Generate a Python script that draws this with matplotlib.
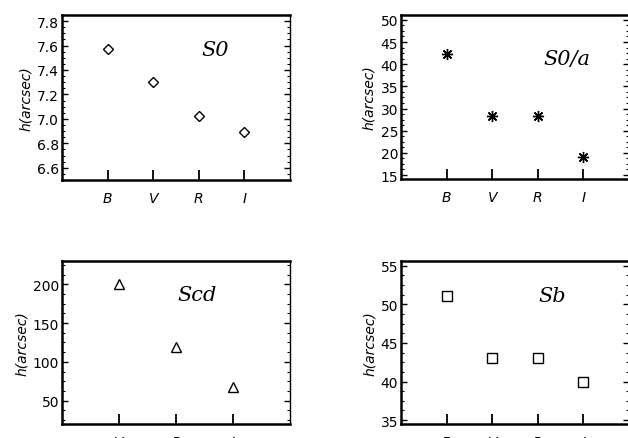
import matplotlib
matplotlib.use('Agg')
import matplotlib.pyplot as plt
from matplotlib.ticker import AutoMinorLocator

bands4 = ['B', 'V', 'R', 'I']
bands3 = ['V', 'R', 'I']

h_s0 = [7.57, 7.30, 7.02, 6.89]
h_s0a = [42.3, 28.3, 28.3, 19.0]
h_scd = [200, 119, 68]
h_sb = [51.1, 43.0, 43.0, 40.0]

fig = plt.figure(figsize=(6.28, 4.39), dpi=100)

# panel: rect, bands, values, marker, size, ylim, yticks, fmt, label, label pos
panels = [
    ([0.0987, 0.5877, 0.3631, 0.3759], bands4, h_s0, 'D', 5.5, (6.5, 7.85),
     [6.6, 6.8, 7.0, 7.2, 7.4, 7.6, 7.8], '%.1f', 'S0', (3.36, 7.57)),
    ([0.6385, 0.5900, 0.3631, 0.3736], bands4, h_s0a, (8, 2, 0), 8, (14.1, 51.1),
     [15, 20, 25, 30, 35, 40, 45, 50], '%d', 'S0/a', (3.64, 41.2)),
    ([0.0987, 0.0319, 0.3631, 0.3713], bands3, h_scd, '^', 7, (20, 230),
     [50, 100, 150, 200], '%d', 'Scd', (2.37, 187)),
    ([0.6385, 0.0319, 0.3631, 0.3713], bands4, h_sb, 's', 6.5, (34.5, 55.6),
     [35, 40, 45, 50, 55], '%d', 'Sb', (3.31, 51.1)),
]

for rect, bands, vals, mk, ms, ylim, yt, fmt, lab, lpos in panels:
    ax = fig.add_axes(rect)
    x = list(range(1, len(bands) + 1))
    if isinstance(mk, tuple):
        ax.plot(x, vals, linestyle='none', marker=mk, ms=ms, mec='black',
                mew=1.0, color='black')
    else:
        ax.plot(x, vals, linestyle='none', marker=mk, ms=ms, mfc='white',
                mec='black', mew=1.0)
    ax.set_xlim(0, len(bands) + 1)
    ax.set_ylim(*ylim)
    ax.set_xticks(x)
    ax.set_xticklabels(bands, fontsize=10, style='italic')
    ax.set_yticks(yt)
    ax.set_yticklabels([fmt % v for v in yt], fontsize=10)
    ax.yaxis.set_minor_locator(AutoMinorLocator(4))
    ax.tick_params(axis='x', direction='in', length=7, width=1.3, pad=8,
                   top=False)
    ax.tick_params(axis='y', which='major', direction='in', length=4,
                   width=1.0, right=True, pad=2)
    ax.tick_params(axis='y', which='minor', direction='in', length=2,
                   width=0.8, right=True)
    for s in ['left', 'bottom', 'top']:
        ax.spines[s].set_linewidth(1.8)
    ax.spines['right'].set_linewidth(1.0)
    ax.set_ylabel('h(arcsec)', fontsize=10, style='italic', labelpad=3)
    ax.text(lpos[0], lpos[1], lab, fontsize=15, ha='center', va='center',
            family='DejaVu Serif', style='italic')

fig.savefig('out.png', dpi=100)
